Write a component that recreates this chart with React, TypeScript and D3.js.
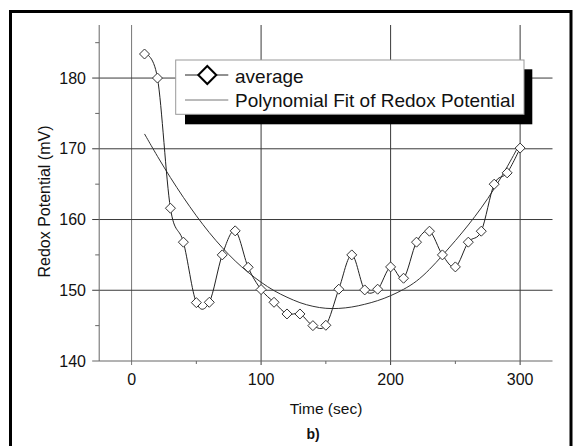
import React from "react";
import * as d3 from "d3";

const timeSec = [10, 20, 30, 40, 50, 60, 70, 80, 90, 100, 110, 120, 130, 140, 150, 160, 170, 180, 190, 200, 210, 220, 230, 240, 250, 260, 270, 280, 290, 300];
const averageMv = [183.4, 180.0, 161.6, 156.8, 148.25, 148.3, 155.0, 158.4, 153.25, 150.1, 148.3, 146.65, 146.65, 145.0, 145.05, 150.15, 155.0, 150.05, 150.15, 153.3, 151.7, 156.8, 158.35, 155.0, 153.3, 156.8, 158.35, 165.0, 166.6, 170.1];

const fitTime = [10, 20, 30, 40, 50, 60, 70, 80, 90, 100, 110, 120, 130, 140, 150, 160, 170, 180, 190, 200, 210, 220, 230, 240, 250, 260, 270, 280, 290, 300];
const fitMv = [172.1, 168.9, 165.9, 163.1, 160.5, 158.1, 156.0, 154.1, 152.5, 151.1, 149.9, 149.0, 148.2, 147.7, 147.4, 147.4, 147.6, 148.0, 148.5, 149.2, 150.1, 151.2, 152.9, 154.9, 157.0, 159.2, 161.6, 164.3, 167.4, 170.8];

const xMajorTicks = [0, 100, 200, 300];
const xMinorTicks = [50, 150, 250];
const yMajorTicks = [140, 150, 160, 170, 180];
const yMinorTicks = [145, 155, 165, 175, 185];

const legendLabels = ["average", "Polynomial Fit of Redox Potential"];
const xTitle = "Time (sec)";
const yTitle = "Redox Potential (mV)";
const caption = "b)";

export default function App() {
  const W = 579;
  const H = 446;
  const left = 99.2, right = 552.5, top = 25, bottom = 361;
  const x = d3.scaleLinear().domain([-25, 325]).range([left, right]);
  const y = d3.scaleLinear().domain([140, 187.5]).range([bottom, top]);

  const avgPts: [number, number][] = timeSec.map((t, i) => [t, averageMv[i]]);
  const fitPts: [number, number][] = fitTime.map((t, i) => [t, fitMv[i]]);

  const avgLine = d3.line<[number, number]>().x(d => x(d[0])).y(d => y(d[1])).curve(d3.curveCatmullRom.alpha(0));
  const fitLine = d3.line<[number, number]>().x(d => x(d[0])).y(d => y(d[1])).curve(d3.curveBasis);

  const font = "'Liberation Sans', Arial, sans-serif";
  const gridColor = "#3a3a3a";
  const axisColor = "#666";

  const diamond = (cx: number, cy: number, r: number) =>
    `M${cx},${cy - r}L${cx + r},${cy}L${cx},${cy + r}L${cx - r},${cy}Z`;

  return (
    <svg width={W} height={H} style={{ position: "absolute", left: 0, top: 0, background: "#fff" }} fontFamily={font}>
      <rect x={0} y={0} width={W} height={H} fill="#fff" />
      {/* frame */}
      <line x1={10.5} y1={10} x2={10.5} y2={H} stroke="#000" strokeWidth={3} />
      <line x1={9} y1={11.5} x2={572} y2={11.5} stroke="#000" strokeWidth={3} />
      <line x1={571} y1={10} x2={571} y2={H} stroke="#000" strokeWidth={3} />

      {/* vertical gridlines */}
      {xMajorTicks.map(t => (
        <line key={"vg" + t} x1={x(t)} x2={x(t)} y1={top} y2={bottom + 4} stroke={t === 0 ? "#777" : gridColor} strokeWidth={1} />
      ))}
      {xMinorTicks.map(t => (
        <line key={"vm" + t} x1={x(t)} x2={x(t)} y1={bottom} y2={bottom + 3} stroke={axisColor} strokeWidth={1} />
      ))}
      {/* horizontal gridlines */}
      {yMajorTicks.filter(v => v > 140).map(v => (
        <line key={"hg" + v} x1={left - 7} x2={right} y1={y(v)} y2={y(v)} stroke={gridColor} strokeWidth={1} />
      ))}
      {yMinorTicks.map(v => (
        <line key={"hm" + v} x1={left - 4} x2={left} y1={y(v)} y2={y(v)} stroke={axisColor} strokeWidth={1} />
      ))}
      {/* axes */}
      <line x1={left} x2={left} y1={top} y2={bottom} stroke={axisColor} strokeWidth={1} />
      <line x1={left - 7} x2={right} y1={bottom} y2={bottom} stroke={axisColor} strokeWidth={1} />

      {/* tick labels */}
      {yMajorTicks.map(v => (
        <text key={"yl" + v} x={86} y={y(v) + 5.7} textAnchor="end" fontSize={16} fill="#111">{v}</text>
      ))}
      {xMajorTicks.map(t => (
        <text key={"xl" + t} x={x(t)} y={385} textAnchor="middle" fontSize={16} fill="#111">{t}</text>
      ))}

      {/* fit curve */}
      <path d={fitLine(fitPts) || ""} fill="none" stroke="#333" strokeWidth={1} />
      {/* average line */}
      <path d={avgLine(avgPts) || ""} fill="none" stroke="#222" strokeWidth={1} />
      {avgPts.map((p, i) => (
        <path key={"pt" + i} d={diamond(x(p[0]), y(p[1]), 5)} fill="#fff" stroke="#333" strokeWidth={1} />
      ))}

      {/* legend */}
      <rect x={185} y={69.3} width={347.3} height={55} fill="#000" />
      <rect x={175.7} y={60} width={348.3} height={54.3} fill="#fff" stroke="#999" strokeWidth={1} />
      <line x1={185} x2={228.3} y1={75} y2={75} stroke="#222" strokeWidth={1} />
      <path d={diamond(207.3, 75, 9)} fill="#fff" stroke="#000" strokeWidth={2} />
      <text x={235} y={82.5} fontSize={19} fill="#111">{legendLabels[0]}</text>
      <line x1={185} x2={228.3} y1={100} y2={100} stroke="#777" strokeWidth={1} />
      <text x={235} y={106.5} fontSize={19} fill="#111">{legendLabels[1]}</text>

      {/* titles */}
      <text transform={`translate(50,201.5) rotate(-90)`} textAnchor="middle" fontSize={16} fill="#111">{yTitle}</text>
      <text x={326} y={413.5} textAnchor="middle" fontSize={15.5} fill="#111">{xTitle}</text>
      <text x={313} y={438.5} textAnchor="middle" fontSize={14} fontWeight="bold" fill="#111">{caption}</text>
    </svg>
  );
}
